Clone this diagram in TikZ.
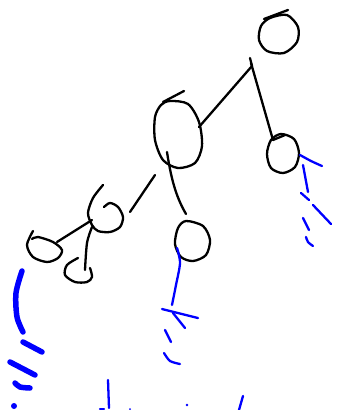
\documentclass[tikz,border=0pt]{standalone}
\begin{document}
\begin{tikzpicture}[x=1pt,y=-1pt,
  ink/.style={black,line width=2.3pt,line cap=round,line join=round},
  bl/.style={blue,line width=2.3pt,line cap=round,line join=round},
  blthick/.style={blue,line width=5.5pt,line cap=round,line join=round}]
\useasboundingbox[fill=white] (0,0) rectangle (338,410);
% top-right circle
\draw[ink] plot[smooth cycle] coordinates {(270,18) (287,15) (298,27) (297,42) (284,53) (267,51) (259,40) (261,26)};
\draw[ink] (264,19) -- (288,10);
% links from root
\draw[ink] (250,58) -- (252,66) -- (199,127);
\draw[ink] (251,63) -- (273,140);
% middle big ellipse
\draw[ink] plot[smooth cycle] coordinates {(170,101) (188,104) (199,122) (202,146) (195,163) (178,168) (163,160) (155,140) (155,117) (161,105)};
\draw[ink] (163,102) -- (184,91);
% right small circle
\draw[ink] plot[smooth cycle] coordinates {(281,134) (294,139) (299,153) (295,167) (283,173) (271,168) (267,154) (271,140)};
\draw[ink] (273,140) -- (285,135);
% line from big ellipse down to lower-middle circle
\draw[ink] (167,152) .. controls (172,185) and (178,200) .. (186,214);
% lower-middle circle
\draw[ink] plot[smooth cycle] coordinates {(186,221) (203,226) (210,240) (206,255) (193,261) (181,257) (175,244) (178,228)};
% left side
\draw[ink] (155,175) -- (130,212);
\draw[ink] plot[smooth] coordinates {(103,185) (93,198) (88,213) (92,225) (98,231) (110,232) (120,227) (123,217) (118,207) (110,203) (104,207)};
\draw[ink] (57,242) -- (92,220);
\draw[ink] plot[smooth] coordinates {(92,227) (87,243) (85,270)};
\draw[ink] plot[smooth] coordinates {(33,231) (27,245) (33,257) (47,262) (58,258) (62,250) (53,242) (38,237) (32,239)};
\draw[ink] plot[smooth] coordinates {(78,258) (67,265) (65,275) (75,282) (87,282) (92,277) (90,268)};
% blue on right circle
\draw[bl] plot[smooth] coordinates {(300,155) (311,161) (322,166)};
\draw[bl] (303,165) -- (308,192);
\draw[bl] (301,193) -- (309,200);
\draw[bl] (313,205) -- (331,224);
\draw[bl] (303,218) -- (309,230);
\draw[bl] plot[smooth] coordinates {(306,237) (308,242) (313,246)};
% blue below lower-middle circle
\draw[bl] plot[smooth] coordinates {(177,248) (180,263) (176,285) (172,305)};
\draw[bl] (162,309) -- (198,318);
\draw[bl] (173,313) -- (185,328);
\draw[bl] (165,330) -- (171,342);
\draw[bl] plot[smooth] coordinates {(164,353) (170,361) (180,364)};
% blue thick on the left
\draw[blthick] plot[smooth] coordinates {(22,271) (16,293) (17,317) (23,332)};
\draw[blthick] (23,342) -- (42,352);
\draw[blthick] (10,362) -- (35,375);
\draw[blthick] plot[smooth] coordinates {(15,383) (20,387) (30,388)};
\fill[blue] (14,406) circle (3);
% bottom marks
\draw[bl] (108,380) -- (109,408);
\draw[bl] (100,409) -- (104,409);
\fill[blue] (130,409) circle (1);
\fill[blue] (187,405) circle (1.3);
\draw[bl] (243,396) -- (239,410);
\end{tikzpicture}
\end{document}
